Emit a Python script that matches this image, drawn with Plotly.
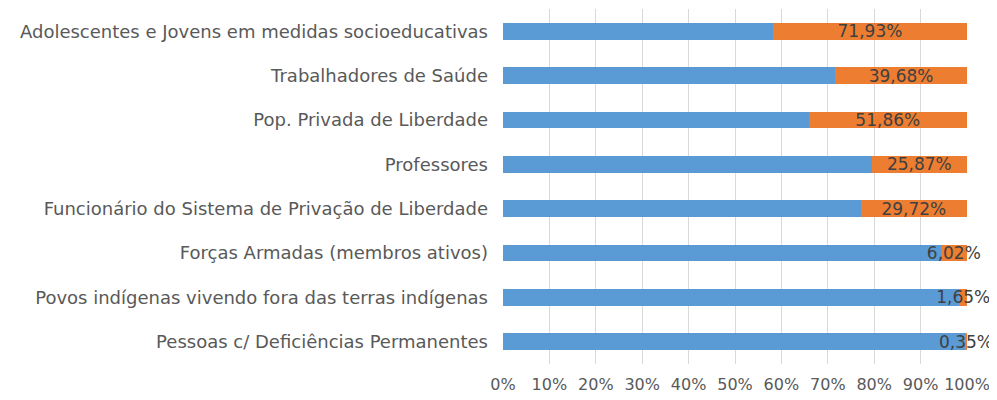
import plotly.graph_objects as go

categories = [
    "Adolescentes e Jovens em medidas socioeducativas",
    "Trabalhadores de Saúde",
    "Pop. Privada de Liberdade",
    "Professores",
    "Funcionário do Sistema de Privação de Liberdade",
    "Forças Armadas (membros ativos)",
    "Povos indígenas vivendo fora das terras indígenas",
    "Pessoas c/ Deficiências Permanentes",
]
base_values = [100, 100, 100, 100, 100, 100, 100, 100]
extra_values = [71.93, 39.68, 51.86, 25.87, 29.72, 6.02, 1.65, 0.35]
extra_labels = ["71,93%", "39,68%", "51,86%", "25,87%", "29,72%", "6,02%", "1,65%", "0,35%"]
tick_vals = [0, 10, 20, 30, 40, 50, 60, 70, 80, 90, 100]
tick_text = ["0%", "10%", "20%", "30%", "40%", "50%", "60%", "70%", "80%", "90%", "100%"]

FONT = "DejaVu Sans"

fig = go.Figure()
fig.add_trace(go.Bar(
    y=categories, x=base_values, orientation="h",
    marker=dict(color="#5B9BD5", line=dict(width=0)), showlegend=False, hoverinfo="skip",
))
fig.add_trace(go.Bar(
    y=categories, x=extra_values, orientation="h",
    marker=dict(color="#ED7D31", line=dict(width=0)), showlegend=False,
    text=extra_labels, textposition="inside", insidetextanchor="middle",
    textangle=0, constraintext="none", cliponaxis=False,
    textfont=dict(family=FONT, size=17, color="#404040"),
    hoverinfo="skip",
))

# page body adds an 8px offset, so the figure is sized to fit inside the window
fig.update_layout(
    width=989, height=392,
    barmode="stack", barnorm="percent", bargap=0.62,
    paper_bgcolor="white", plot_bgcolor="white",
    margin=dict(l=495, r=30, t=1, b=36),
    font=dict(family=FONT, size=16, color="#595959"),
)
fig.update_xaxes(
    range=[0, 100], tickvals=tick_vals, ticktext=tick_text,
    showgrid=True, gridcolor="#D9D9D9", gridwidth=1, zeroline=False,
    showline=False, ticks="", automargin=False, ticklabelstandoff=9,
    tickfont=dict(family=FONT, size=16, color="#595959"),
    fixedrange=True,
)
fig.update_yaxes(
    categoryorder="array", categoryarray=categories, autorange="reversed",
    showgrid=False, zeroline=False, showline=False, ticks="", automargin=False,
    ticklabelstandoff=14,
    tickfont=dict(family=FONT, size=18, color="#595959"),
)

fig.write_html("out.html")
